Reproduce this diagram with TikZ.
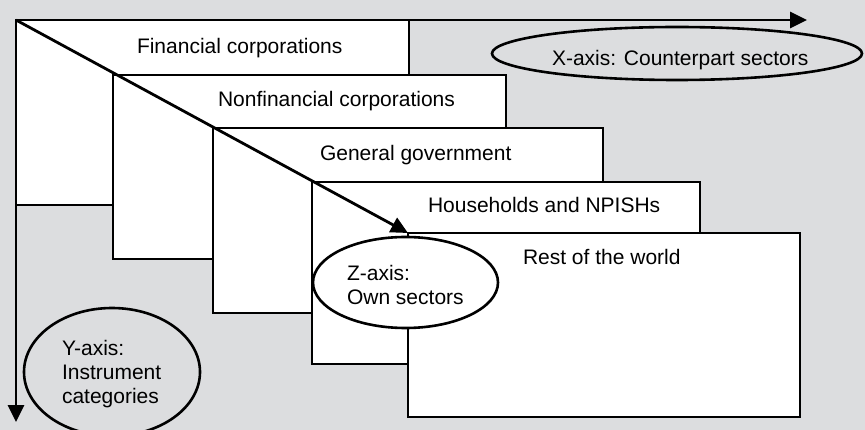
\documentclass[tikz,border=0pt]{standalone}
\usepackage{fontspec}
\setmainfont{Liberation Sans}
\usetikzlibrary{arrows.meta,shapes.geometric}
\definecolor{bggray}{RGB}{220,221,223}
\tikzset{
  sector/.style={draw=black, fill=white, line width=2.8pt, rectangle, inner sep=0pt, outer sep=0pt, anchor=north west},
  axislabel/.style={draw=black, line width=2.6pt, ellipse, inner sep=0pt, outer sep=0pt},
  txt/.style={inner sep=0pt, outer sep=0pt, font=\fontsize{21}{24}\selectfont},
  axis/.style={line width=2.8pt, -{Triangle[length=17pt,width=16pt]}}
}
\begin{document}
\begin{tikzpicture}[x=1pt,y=-1pt]
\fill[bggray] (0,0) rectangle (865,430);
\useasboundingbox (0,0) rectangle (865,430);
% sector boxes
\node[sector, minimum width=393pt, minimum height=185pt] (b1) at (16,20) {};
\node[sector, minimum width=393pt, minimum height=184pt] (b2) at (113,75) {};
\node[sector, minimum width=390pt, minimum height=185pt] (b3) at (213,128) {};
\node[sector, minimum width=388pt, minimum height=182pt] (b4) at (312,182) {};
\node[sector, minimum width=392pt, minimum height=184pt] (b5) at (408,233) {};
% box labels
\node[txt, anchor=base west] (t1) at (137,54) {Financial corporations};
\node[txt, anchor=base west] (t2) at (218,107) {Nonfinancial corporations};
\node[txt, anchor=base west] (t3) at (320,161) {General government};
\node[txt, anchor=base west] (t4) at (428,213) {Households and NPISHs};
\node[txt, anchor=base west] (t5) at (523,265) {Rest of the world};
% axes
\coordinate (xend) at (807,20);
\coordinate (yend) at (16,422);
\draw[axis] (b1.north west) -- (b5.north west);
\draw[axis] (b1.north west) -- (xend);
\draw[axis] (b1.north west) -- (yend);
% axis ellipses
\node[axislabel, minimum width=370pt, minimum height=53pt] (ex) at (677,53.5) {};
\node[txt, anchor=base west] (tx) at (552,66) {X-axis: Counterpart sectors};
\node[axislabel, fill=white, minimum width=185pt, minimum height=91pt] (ez) at (405.5,282.5) {};
\node[txt, anchor=north west, align=left] (tz) at (347,265) {Z-axis:\\Own sectors};
\node[axislabel, minimum width=176pt, minimum height=128pt] (ey) at (112,372) {};
\node[txt, anchor=north west, align=left] (ty) at (62,340) {Y-axis:\\Instrument\\categories};
\end{tikzpicture}
\end{document}
